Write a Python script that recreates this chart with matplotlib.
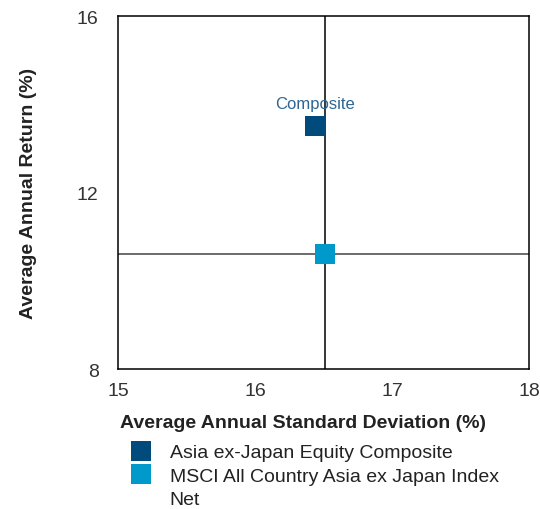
import matplotlib
matplotlib.use("Agg")
import matplotlib.pyplot as plt
from matplotlib.lines import Line2D

# risk / return values
names = ["Asia ex-Japan Equity Composite", "MSCI All Country Asia ex Japan Index", "Net"]
std_dev = [16.44, 16.51]
returns = [13.51, 10.60]
colors = ["#004a7c", "#0099cc"]

x_ticks = [15, 16, 17, 18]
y_ticks = [8, 12, 16]

plt.rcParams['font.family'] = ['Liberation Sans', 'DejaVu Sans']

fig = plt.figure(figsize=(5.4, 5.1), dpi=100)
ax = fig.add_axes([0.2185, 0.2745, 0.761, 0.692])

# crosshair through the index point
ax.axvline(std_dev[1], color='black', lw=1.1, zorder=1)
ax.axhline(returns[1], color='#444444', lw=1.1, zorder=1)

for x, y, c in zip(std_dev, returns, colors):
    ax.plot(x, y, 's', color=c, markersize=14.4, markeredgewidth=0, zorder=3)

ax.annotate("Composite", (std_dev[0], returns[0]), xytext=(0, 16),
            textcoords='offset points', ha='center', va='center',
            fontsize=12, color='#2f6592', fontstretch='condensed')

ax.set_xlim(15, 18)
ax.set_ylim(8, 16)
ax.set_xticks(x_ticks)
ax.set_yticks(y_ticks)
ax.tick_params(length=0, labelsize=14, colors='#333333')
ax.tick_params(axis='y', pad=14)
ax.tick_params(axis='x', pad=9)
for s in ax.spines.values():
    s.set_linewidth(1.1)

ax.set_xlabel("Average Annual Standard Deviation (%)", fontsize=14,
              fontweight='bold', labelpad=11, color='#222222', x=0.45)
ax.set_ylabel("Average Annual Return (%)", fontsize=14,
              fontweight='bold', labelpad=29, color='#222222')

# legend: third row is the wrapped tail of the index name
handles = [Line2D([], [], marker='s', linestyle='none', color=c,
                  markersize=14.4, markeredgewidth=0) for c in colors]
handles.append(Line2D([], [], linestyle='none'))
fig.legend(handles, names, loc='upper left', bbox_to_anchor=(0.2245, 0.147),
           frameon=False, fontsize=14, handletextpad=1.0, labelspacing=0.3,
           borderpad=0, handlelength=1.0, labelcolor='#222222')

fig.savefig("out.png", dpi=100)
